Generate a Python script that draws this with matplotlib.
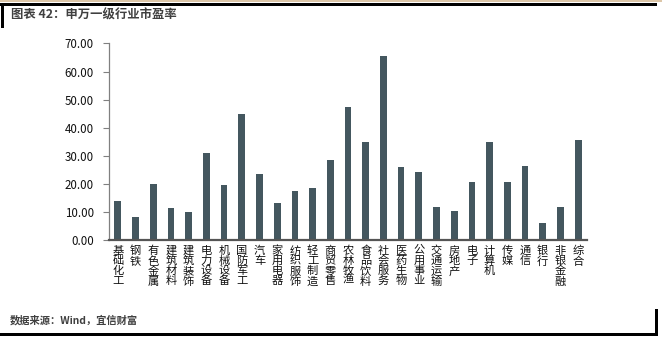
import matplotlib
matplotlib.use('Agg')
import matplotlib.pyplot as plt
from matplotlib.patches import Rectangle

plt.rcParams['font.family'] = ['Noto Sans CJK SC', 'DejaVu Sans']

# 申万一级行业市盈率
industries = ['基础化工', '钢铁', '有色金属', '建筑材料', '建筑装饰', '电力设备', '机械设备',
              '国防军工', '汽车', '家用电器', '纺织服饰', '轻工制造', '商贸零售', '农林牧渔',
              '食品饮料', '社会服务', '医药生物', '公用事业', '交通运输', '房地产', '电子',
              '计算机', '传媒', '通信', '银行', '非银金融', '综合']
pe_values = [13.8, 8.1, 19.8, 11.5, 10.0, 31.0, 19.5,
             44.9, 23.6, 13.3, 17.4, 18.6, 28.5, 47.3,
             34.8, 65.7, 26.0, 24.2, 11.9, 10.2, 20.5,
             34.8, 20.6, 26.2, 5.9, 11.9, 35.5]
yticks = [0, 10, 20, 30, 40, 50, 60, 70]

W, H = 662, 341
fig = plt.figure(figsize=(W / 100, H / 100), dpi=100)

# overlay in pixel coordinates for the frame and captions
frame = fig.add_axes([0, 0, 1, 1])
frame.set_xlim(0, W)
frame.set_ylim(H, 0)
frame.axis('off')
# (x, y, w, h, colour) of the border strips
strips = [(0, 0, W, 2, '#dcc6a8'),
          (0, 2.5, 657, 3, 'black'),
          (1, 2.5, 3, 25, 'black'),
          (0, 332.5, 657, 3, 'black'),
          (654.5, 309, 3, 26.5, 'black')]
for sx, sy, sw, sh, sc in strips:
    frame.add_patch(Rectangle((sx, sy), sw, sh, color=sc, lw=0))
frame.text(11, 15, '图表 42：申万一级行业市盈率', fontsize=8.9, fontweight='bold',
           color='#404040', va='center', ha='left')
frame.text(10, 320, '数据来源：Wind，宜信财富', fontsize=7.4, fontweight='bold',
           color='#404040', va='center', ha='left')

ax = fig.add_axes([109 / W, (H - 240) / H, (587 - 109) / W, (240 - 43.5) / H])
x = list(range(len(industries)))
ax.bar(x, pe_values, width=0.38, color='#44575f', zorder=2)
ax.set_xlim(-0.5, len(industries) - 0.5)
ax.set_ylim(0, 70)
ax.set_yticks(yticks)
ax.set_yticklabels([f'{v:.2f}' for v in yticks], fontsize=8.3, color='#111111')
ax.tick_params(axis='y', length=4, width=0.8, color='#808080', pad=7)
ax.set_xticks(x)
ax.set_xticklabels(['\n'.join(s) for s in industries], fontsize=8.1,
                   linespacing=1.0, va='top', color='#111111')
ax.tick_params(axis='x', length=0, pad=4)
for side in ['top', 'right']:
    ax.spines[side].set_visible(False)
ax.spines['left'].set_color('#808080')
ax.spines['left'].set_linewidth(0.9)
ax.spines['bottom'].set_color('#555555')
ax.spines['bottom'].set_linewidth(1.6)
ax.spines['bottom'].set_zorder(3)

fig.savefig('out.png', dpi=100)
